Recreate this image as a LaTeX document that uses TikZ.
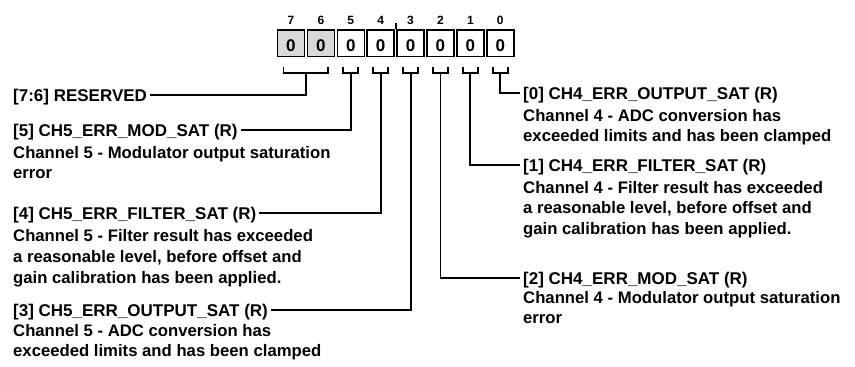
\documentclass[tikz,border=0pt]{standalone}
\usepackage{fontspec}
\setmainfont{Liberation Sans}
\usetikzlibrary{calc}

\begin{document}
\begin{tikzpicture}[x=1pt, y=-1pt,
  wire/.style={line width=1.9pt},
  cell/.style={draw, line width=1.5pt, minimum width=27pt, minimum height=26.5pt, inner sep=0pt,
    text height=16pt, text depth=0pt, font=\fontsize{17}{18}\selectfont\bfseries},
  bitnum/.style={inner sep=0pt, font=\fontsize{12}{14}\selectfont\bfseries},
  title/.style={inner xsep=3pt, inner ysep=0pt, text height=12pt, text depth=0pt,
    font=\fontsize{17}{20.7}\selectfont\bfseries},
  desc/.style={inner sep=0pt, align=left, font=\fontsize{16.7}{20.6}\selectfont\bfseries}]
  \useasboundingbox (0,0) rectangle (855,367);

  % Register cells and bit numbers
  \foreach \b/\fc in {7/gray!30, 6/gray!30, 5/white, 4/white, 3/white, 2/white, 1/white, 0/white} {
    \node[cell, fill=\fc] (c\b) at ({290.95+29.9*(7-\b)}, 43) {0};
    \node[bitnum] (n\b) at ({290.95+29.9*(7-\b)}, 20) {\b};
  }
  \draw[wire] ($(c4.north east)!.5!(c3.north west)$) -- ++(0,-6); % nibble tick

  % Brackets under the cells
  \foreach \b in {0,...,5} {
    \draw[wire] ($(c\b.south)+(-7.5,10)$) -- ++(0,6) -- ++(15,0) -- ++(0,-6);
    \coordinate (s\b) at ($(c\b.south)+(0,16)$);
  }
  \draw[wire] ($(c7.south)+(-7.5,10)$) -- ++(0,6) -- ($(c6.south)+(7.5,16)$) -- ++(0,-6);
  \coordinate (s76) at ($(c7.south)!.5!(c6.south)+(0,16)$);

  % Left fields
  \node[title, anchor=west] (t76) at (10,95) {[7:6] RESERVED};
  \node[title, anchor=west] (t5) at (10,130) {[5] CH5\_ERR\_MOD\_SAT (R)};
  \node[desc, anchor=north west] (d5) at (13,145.7) {Channel 5 - Modulator output saturation\\error};
  \node[title, anchor=west] (t4) at (10,213) {[4] CH5\_ERR\_FILTER\_SAT (R)};
  \node[desc, anchor=north west] (d4) at (13,229.5) {Channel 5 - Filter result has exceeded\\a reasonable level, before offset and\\gain calibration has been applied.};
  \node[title, anchor=west] (t3) at (10,310) {[3] CH5\_ERR\_OUTPUT\_SAT (R)};
  \node[desc, anchor=north west] (d3) at (13,323.7) {Channel 5 - ADC conversion has\\exceeded limits and has been clamped};

  % Right fields
  \node[title, anchor=west] (t0) at (520,93) {[0] CH4\_ERR\_OUTPUT\_SAT (R)};
  \node[desc, anchor=north west] (d0) at (523,108.7) {Channel 4 - ADC conversion has\\exceeded limits and has been clamped};
  \node[title, anchor=west] (t1) at (520,165) {[1] CH4\_ERR\_FILTER\_SAT (R)};
  \node[desc, anchor=north west] (d1) at (523,180.7) {Channel 4 - Filter result has exceeded\\a reasonable level, before offset and\\gain calibration has been applied.};
  \node[title, anchor=west] (t2) at (520,278) {[2] CH4\_ERR\_MOD\_SAT (R)};
  \node[desc, anchor=north west] (d2) at (523,290.7) {Channel 4 - Modulator output saturation\\error};

  % Connectors
  \draw[wire] (s76) |- (t76.east);
  \draw[wire] (s5) |- (t5.east);
  \draw[wire] (s4) |- (t4.east);
  \draw[wire] (s3) |- (t3.east);
  \draw[wire] (s2) |- (t2.west);
  \draw[wire] (s1) |- (t1.west);
  \draw[wire] (s0) |- (t0.west);
\end{tikzpicture}
\end{document}
